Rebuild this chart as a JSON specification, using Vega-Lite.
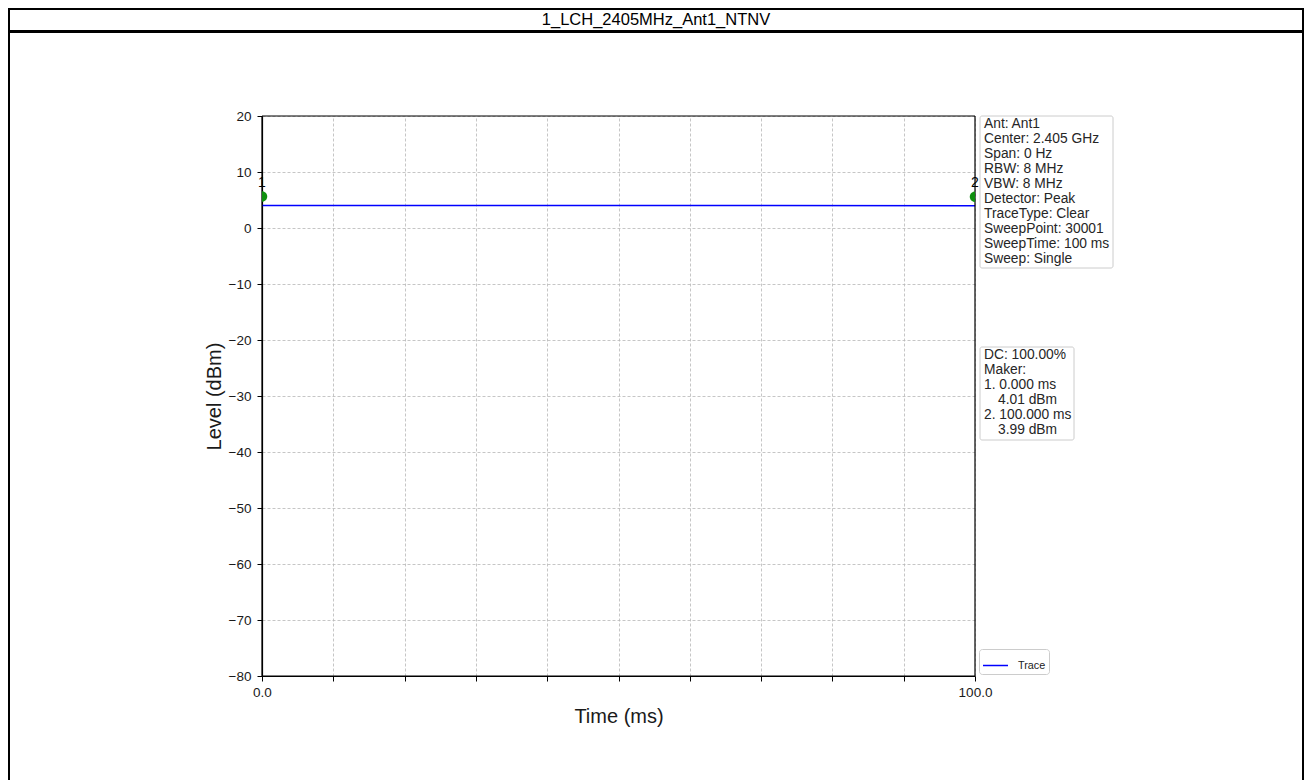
{
  "$schema": "https://vega.github.io/schema/vega-lite/v6.json",
  "padding": {"left": 8, "top": 8, "right": 0, "bottom": 0},
  "background": "white",
  "spacing": -2,
  "config": {
    "view": {"stroke": "black", "strokeWidth": 2},
    "font": "Liberation Sans"
  },
  "datasets": {
    "title": [{"label": "1_LCH_2405MHz_Ant1_NTNV"}],
    "trace": [{"time": 0, "level": 4.01}, {"time": 100, "level": 3.99}],
    "markers": [{"marker": "1", "time": 0, "level": 4.01}, {"marker": "2", "time": 100, "level": 3.99}],
    "info": [{"text": "Ant: Ant1\nCenter: 2.405 GHz\nSpan: 0 Hz\nRBW: 8 MHz\nVBW: 8 MHz\nDetector: Peak\nTraceType: Clear\nSweepPoint: 30001\nSweepTime: 100 ms\nSweep: Single"}],
    "makers": [{"head": "DC: 100.00%\nMaker:\n1. 0.000 ms", "level1": "4.01 dBm", "time2": "2. 100.000 ms", "level2": "3.99 dBm"}]
  },
  "vconcat": [
    {
      "width": 1294,
      "height": 22,
      "data": {"name": "title"},
      "mark": {"type": "text", "fontSize": 16.5, "baseline": "middle", "align": "center", "color": "black"},
      "encoding": {
        "x": {"field": "label", "type": "nominal", "axis": null},
        "text": {"field": "label", "type": "nominal"}
      }
    },
    {
      "width": 1294,
      "height": 770,
      "resolve": {"axis": {"x": "independent"}},
      "layer": [
        {
          "data": {"name": "trace"},
          "mark": {"type": "line", "strokeWidth": 1.5},
          "encoding": {
            "x": {
              "field": "time", "type": "quantitative",
              "scale": {"domain": [0, 100], "range": [253, 966], "nice": false, "zero": false},
              "axis": {
                "orient": "bottom", "offset": -126,
                "values": [0, 10, 20, 30, 40, 50, 60, 70, 80, 90, 100],
                "labelExpr": "datum.value === 0 || datum.value === 100 ? format(datum.value, '.1f') : ''",
                "grid": false,
                "domainColor": "black", "domainWidth": 1.2, "tickColor": "black", "tickSize": 5, "tickWidth": 1,
                "labelFontSize": 13.5, "labelColor": "#1a1a1a", "labelPadding": 4, "labelFlush": false, "labelOverlap": false,
                "title": "Time (ms)", "titleFontSize": 20, "titleFontWeight": "normal", "titleColor": "#1a1a1a", "titlePadding": 8
              }
            },
            "y": {
              "field": "level", "type": "quantitative",
              "scale": {"domain": [-80, 20], "range": [644, 84], "nice": false, "zero": false},
              "axis": {
                "orient": "left", "offset": -253,
                "values": [-80, -70, -60, -50, -40, -30, -20, -10, 0, 10, 20],
                "format": "d",
                "grid": true, "gridColor": "#b8b8b8", "gridDash": [3, 2], "gridWidth": 0.8,
                "domainColor": "black", "domainWidth": 1.2, "tickColor": "black", "tickSize": 5, "tickWidth": 1,
                "labelFontSize": 13.5, "labelColor": "#1a1a1a", "labelPadding": 6, "labelOverlap": false,
                "title": "Level (dBm)", "titleFontSize": 20, "titleFontWeight": "normal", "titleColor": "#1a1a1a", "titlePadding": 4
              }
            },
            "color": {
              "datum": "Trace", "type": "nominal",
              "scale": {"range": ["#0000ff"]},
              "legend": {
                "orient": "none", "legendX": 970, "legendY": 640,
                "title": null, "symbolType": "stroke", "symbolSize": 625, "symbolStrokeWidth": 1.5,
                "labelFontSize": 10.8, "labelColor": "#222222", "labelOffset": 9,
                "padding": 3, "strokeColor": "#cccccc", "fillColor": "white", "cornerRadius": 3
              }
            }
          }
        },
        {
          "data": {"values": [{}]},
          "mark": {"type": "rule", "color": "black", "strokeWidth": 1.2},
          "encoding": {
            "x": {
              "datum": 0, "type": "quantitative",
              "axis": {
                "orient": "top", "offset": -84,
                "values": [0, 10, 20, 30, 40, 50, 60, 70, 80, 90, 100],
                "grid": true, "gridColor": "#b8b8b8", "gridDash": [3, 2], "gridWidth": 0.8,
                "domain": false, "ticks": false, "labels": false, "title": null
              }
            },
            "x2": {"datum": 100},
            "y": {"datum": 20, "type": "quantitative"}
          }
        },
        {
          "data": {"values": [{}]},
          "mark": {"type": "rule", "color": "black", "strokeWidth": 1.2},
          "encoding": {
            "x": {"datum": 0, "type": "quantitative", "axis": null},
            "x2": {"datum": 100},
            "y": {"datum": -80, "type": "quantitative"}
          }
        },
        {
          "data": {"values": [{}]},
          "mark": {"type": "rule", "color": "black", "strokeWidth": 1.2},
          "encoding": {
            "x": {"datum": 100, "type": "quantitative", "axis": null},
            "y": {"datum": -80, "type": "quantitative"},
            "y2": {"datum": 20}
          }
        },
        {
          "data": {"values": [{}]},
          "mark": {"type": "rule", "color": "black", "strokeWidth": 1.2},
          "encoding": {
            "x": {"datum": 0, "type": "quantitative", "axis": null},
            "y": {"datum": -80, "type": "quantitative"},
            "y2": {"datum": 20}
          }
        },
        {
          "data": {"name": "markers"},
          "mark": {"type": "point", "filled": true, "opacity": 1, "color": "#109010", "size": 110, "yOffset": -9},
          "encoding": {
            "x": {"field": "time", "type": "quantitative", "axis": null},
            "y": {"field": "level", "type": "quantitative"},
            "shape": {
              "field": "marker", "type": "nominal",
              "scale": {"range": ["M0,-1A1,1 0 0 1 0,1Z", "M0,-1A1,1 0 0 0 0,1Z"]},
              "legend": null
            }
          }
        },
        {
          "data": {"name": "markers"},
          "mark": {"type": "text", "fontSize": 14, "align": "center", "baseline": "middle", "dy": -23, "color": "black"},
          "encoding": {
            "x": {"field": "time", "type": "quantitative", "axis": null},
            "y": {"field": "level", "type": "quantitative"},
            "text": {"field": "marker", "type": "nominal"}
          }
        },
        {
          "data": {"name": "info"},
          "mark": {"type": "rect", "fill": "white", "stroke": "#cccccc", "strokeWidth": 1, "cornerRadius": 2, "xOffset": 5, "x2Offset": 138, "yOffset": 0, "y2Offset": 152},
          "encoding": {
            "x": {"datum": 100, "type": "quantitative", "axis": null},
            "x2": {"datum": 100},
            "y": {"datum": 20, "type": "quantitative"},
            "y2": {"datum": 20}
          }
        },
        {
          "data": {"name": "info"},
          "mark": {"type": "text", "align": "left", "baseline": "top", "fontSize": 13.8, "lineHeight": 15, "lineBreak": "\n", "dx": 9, "dy": 1, "color": "#262626"},
          "encoding": {
            "x": {"datum": 100, "type": "quantitative", "axis": null},
            "y": {"datum": 20, "type": "quantitative"},
            "text": {"field": "text", "type": "nominal"}
          }
        },
        {
          "data": {"name": "makers"},
          "mark": {"type": "rect", "fill": "white", "stroke": "#cccccc", "strokeWidth": 1, "cornerRadius": 2, "xOffset": 5, "x2Offset": 99, "yOffset": 231, "y2Offset": 324},
          "encoding": {
            "x": {"datum": 100, "type": "quantitative", "axis": null},
            "x2": {"datum": 100},
            "y": {"datum": 20, "type": "quantitative"},
            "y2": {"datum": 20}
          }
        },
        {
          "data": {"name": "makers"},
          "mark": {"type": "text", "align": "left", "baseline": "top", "fontSize": 13.8, "lineHeight": 15, "lineBreak": "\n", "dx": 9, "dy": 232, "color": "#262626"},
          "encoding": {
            "x": {"datum": 100, "type": "quantitative", "axis": null},
            "y": {"datum": 20, "type": "quantitative"},
            "text": {"field": "head", "type": "nominal"}
          }
        },
        {
          "data": {"name": "makers"},
          "mark": {"type": "text", "align": "left", "baseline": "top", "fontSize": 13.8, "dx": 23, "dy": 277, "color": "#262626"},
          "encoding": {
            "x": {"datum": 100, "type": "quantitative", "axis": null},
            "y": {"datum": 20, "type": "quantitative"},
            "text": {"field": "level1", "type": "nominal"}
          }
        },
        {
          "data": {"name": "makers"},
          "mark": {"type": "text", "align": "left", "baseline": "top", "fontSize": 13.8, "dx": 9, "dy": 292, "color": "#262626"},
          "encoding": {
            "x": {"datum": 100, "type": "quantitative", "axis": null},
            "y": {"datum": 20, "type": "quantitative"},
            "text": {"field": "time2", "type": "nominal"}
          }
        },
        {
          "data": {"name": "makers"},
          "mark": {"type": "text", "align": "left", "baseline": "top", "fontSize": 13.8, "dx": 23, "dy": 307, "color": "#262626"},
          "encoding": {
            "x": {"datum": 100, "type": "quantitative", "axis": null},
            "y": {"datum": 20, "type": "quantitative"},
            "text": {"field": "level2", "type": "nominal"}
          }
        }
      ]
    }
  ]
}
